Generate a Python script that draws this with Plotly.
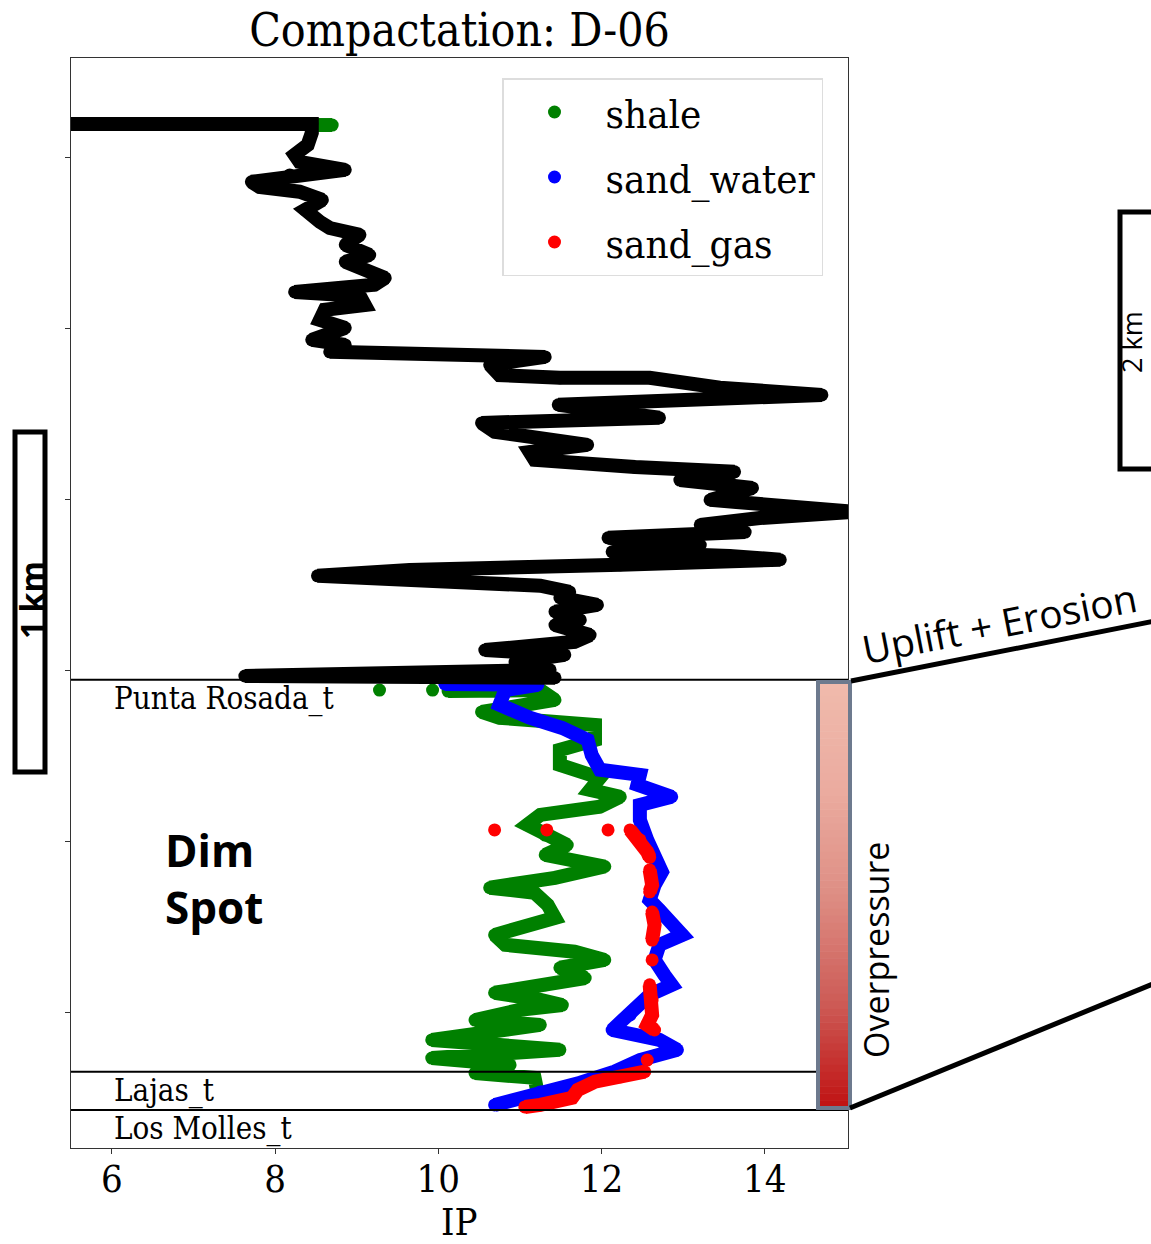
import plotly.graph_objects as go

# ---------------- data (IP vs depth) ----------------
black_ip = [5.42, 8.45, 8.45, 8.40, 8.24, 8.30, 8.86, 8.18, 7.71, 7.81, 8.30, 8.58, 8.37, 8.55, 8.67,
            9.04, 8.86, 9.16, 8.86, 9.10, 9.35, 9.22, 8.24, 9.04, 9.10, 8.61, 8.55, 8.86, 8.45, 8.86,
            8.67, 11.31, 10.63, 10.75, 11.49, 12.59, 13.45, 14.70, 13.94, 11.47, 12.71, 10.53, 10.69,
            11.83, 11.12, 11.18, 12.41, 13.63, 12.96, 13.85, 13.33, 15.10, 13.94, 13.21, 13.76, 12.08,
            13.21, 12.13, 13.57, 14.19, 12.23, 9.65, 8.52, 10.02, 11.25, 11.61, 11.49, 11.95, 11.43,
            11.74, 11.43, 11.86, 11.67, 10.57, 11.55, 10.94, 11.37, 7.63, 11.43]
black_depth = [901, 901, 927, 962, 991, 1012, 1035, 1050, 1070, 1085, 1099, 1123, 1152, 1187, 1205,
               1225, 1254, 1284, 1304, 1327, 1351, 1371, 1392, 1404, 1430, 1444, 1474, 1497, 1532, 1547,
               1567, 1582, 1605, 1635, 1643, 1643, 1672, 1693, 1701, 1722, 1760, 1775, 1801,
               1839, 1860, 1883, 1904, 1918, 1942, 1965, 2000, 2035, 2053, 2073, 2094, 2111,
               2132, 2152, 2164, 2175, 2190, 2205, 2222, 2234, 2251, 2269, 2286, 2307, 2327,
               2351, 2366, 2395, 2415, 2439, 2453, 2474, 2497, 2515, 2520]

shale_ip = [8.51, 8.70, None, 9.28, None, 9.93, None,
            10.12, 11.25, 11.43, 10.53, 10.75, 11.92, 11.92, 11.49, 11.49, 11.98, 11.86, 12.23, 11.98,
            11.25, 11.09, 11.31, 11.58, 11.31, 12.04, 11.43, 10.63, 11.18, 11.34, 11.43, 10.69, 10.82,
            11.67, 12.04, 11.49, 11.80, 11.31, 10.69, 11.25, 11.52, 11.00, 10.45, 11.25, 9.92, 10.75,
            11.49, 9.92, 10.88, 10.45, 11.18, 11.21]
shale_depth = [904, 904, None, 2556, None, 2556, None,
               2559, 2556, 2585, 2620, 2637, 2658, 2702, 2731, 2775, 2813, 2848, 2868, 2897,
               2921, 2950, 2980, 3009, 3038, 3072, 3105, 3134, 3149, 3184, 3222, 3272, 3301,
               3321, 3345, 3368, 3398, 3418, 3441, 3462, 3477, 3491, 3521, 3535, 3579, 3594,
               3608, 3632, 3652, 3676, 3690, 3725]

water_ip = [10.08, 11.22, 10.82, 10.75, 11.12, 11.52, 11.83, 11.88, 11.98, 12.47, 12.44, 12.86, 12.47,
            12.47, 12.56, 12.65, 12.74, 12.65, 12.59, 12.71, 12.99, 12.71, 12.65, 12.77, 12.86, 12.59,
            12.35, 12.13, 12.71, 12.93, 12.47, 12.16, 11.74, 11.25, 10.69]
water_depth = [2538, 2541, 2556, 2599, 2637, 2667, 2702, 2746, 2789, 2804, 2833, 2868, 2892,
               2936, 2994, 3053, 3088, 3126, 3170, 3199, 3272, 3301, 3345, 3389, 3418, 3447,
               3506, 3550, 3579, 3608, 3638, 3672, 3704, 3731, 3769]

gas_ip = [10.69, None, 11.33, None, 12.08, None,
          12.35, 12.47, 12.56, 12.59, None,
          12.59, 12.62, 12.59, None,
          12.62, 12.65, 12.62, None,
          12.62, None,
          12.59, 12.62, 12.62, 12.56, 12.65, None,
          12.56, None,
          12.53, 12.23, 11.92, 11.71, 11.64, 11.25, 11.06]
gas_depth = [2965, None, 2965, None, 2965, None,
             2965, 2994, 3029, 3045, None,
             3082, 3126, 3146, None,
             3205, 3243, 3287, None,
             3345, None,
             3418, 3462, 3506, 3535, 3550, None,
             3638, None,
             3672, 3687, 3701, 3725, 3748, 3769, 3775]

tops_names = ["Punta Rosada_t", "Lajas_t", "Los Molles_t"]
tops_depth = [2526, 3672, 3784]

x_ticks = [6, 8, 10, 12, 14]
y_ticks = [1000, 1500, 2000, 2500, 3000, 3500]

# ---------------- figure ----------------
SERIF = "DejaVu Serif Condensed, DejaVu Serif, serif"
SANS = "Open Sans, Noto Sans, sans-serif"
LW = 14
MS = 13

fig = go.Figure()

series = [
    ("shale", shale_ip, shale_depth, "green"),
    ("sand_water", water_ip, water_depth, "blue"),
    ("sand_gas", gas_ip, gas_depth, "red"),
]
for name, xs, ys, col in series:
    fig.add_trace(go.Scatter(x=xs, y=ys, mode="lines", line=dict(color=col, width=LW),
                             connectgaps=False, showlegend=False, hoverinfo="skip"))
    fig.add_trace(go.Scatter(x=xs, y=ys, mode="markers", name=name, legendgroup=name,
                             marker=dict(color=col, size=MS)))

fig.add_trace(go.Scatter(x=black_ip, y=black_depth, mode="lines", line=dict(color="black", width=LW),
                         showlegend=False, hoverinfo="skip"))
fig.add_trace(go.Scatter(x=black_ip, y=black_depth, mode="markers", marker=dict(color="black", size=MS),
                         showlegend=False))

shapes = []
annotations = []

# formation tops
for nm, d in zip(tops_names, tops_depth):
    shapes.append(dict(type="line", xref="paper", yref="y", x0=0, x1=1, y0=d, y1=d,
                       line=dict(color="black", width=2), layer="above"))
    annotations.append(dict(x=6.0, y=d, xref="x", yref="y", text=nm, showarrow=False,
                            xanchor="left", yanchor="top", yshift=2,
                            font=dict(family=SERIF, size=31, color="black")))

# helpers pixel -> paper (plot area: x 71..848, y 58..1148)
def px(xp):
    return (xp - 71) / 777.0

def py(yp):
    return 1 - (yp - 58) / 1090.0

# overpressure gradient bar
stops = [(0.0, (240, 186, 172)), (0.25, (235, 172, 160)), (0.5, (222, 142, 132)),
         (0.75, (205, 92, 87)), (1.0, (192, 18, 18))]

def grad(t):
    for (t0, c0), (t1, c1) in zip(stops[:-1], stops[1:]):
        if t <= t1:
            f = (t - t0) / (t1 - t0)
            return "rgb(%d,%d,%d)" % tuple(round(a + (b - a) * f) for a, b in zip(c0, c1))
    return "rgb(192,18,18)"

bx0, bx1 = px(818), px(850)
by_top, by_bot = 682, 1108
N = 60
for i in range(N):
    ya = by_top + (by_bot - by_top) * i / N
    yb = by_top + (by_bot - by_top) * (i + 1) / N
    shapes.append(dict(type="rect", xref="paper", yref="paper", x0=bx0, x1=bx1,
                       y0=py(yb), y1=py(ya) + 0.0005, fillcolor=grad((i + 0.5) / N),
                       line=dict(width=0), layer="above"))
shapes.append(dict(type="rect", xref="paper", yref="paper", x0=bx0, x1=bx1, y0=py(by_bot), y1=py(by_top),
                   line=dict(color="#6d7a8e", width=4), fillcolor="rgba(0,0,0,0)", layer="above"))

# connector lines
shapes.append(dict(type="line", xref="paper", yref="paper", x0=px(851), y0=py(681), x1=px(1160), y1=py(620),
                   line=dict(color="black", width=5)))
shapes.append(dict(type="line", xref="paper", yref="paper", x0=px(850), y0=py(1108), x1=px(1160), y1=py(981),
                   line=dict(color="black", width=5)))

def label(x, y, text, size, angle=0, family=SANS, **kw):
    d = dict(x=px(x), y=py(y), xref="paper", yref="paper", text=text, showarrow=False,
             textangle=angle, xanchor="center", yanchor="middle",
             font=dict(family=family, size=size, color="black"))
    d.update(kw)
    annotations.append(d)

# 1 km scale bar
shapes.append(dict(type="rect", xref="paper", yref="paper", x0=px(15), x1=px(45), y0=py(772), y1=py(432),
                   line=dict(color="black", width=5), fillcolor="white"))
label(31, 600, "<b>1 km</b>", 32, -90)
# 2 km scale bar (cut at right edge)
shapes.append(dict(type="rect", xref="paper", yref="paper", x0=px(1120), x1=px(1170), y0=py(469), y1=py(212),
                   line=dict(color="black", width=5), fillcolor="rgba(0,0,0,0)"))
label(1131, 342, "2 km", 27, -90, borderpad=0)

label(999, 622, "Uplift + Erosion", 39, -11)
label(876, 950, "Overpressure", 34, -90)
annotations.append(dict(x=px(163), y=py(818), xref="paper", yref="paper", text="<b>Dim<br>Spot</b>",
                        showarrow=False, xanchor="left", yanchor="top", align="left",
                        font=dict(family=SANS, size=44, color="black")))
label(459, 1222, "IP", 38, family=SERIF)

fig.update_layout(
    width=1151, height=1244,
    margin=dict(l=71, r=303, t=58, b=96),
    paper_bgcolor="white", plot_bgcolor="white",
    title=dict(text="Compactation: D-06", x=0.5, xref="paper", xanchor="center",
               y=1 - 30 / 1244, yref="container", yanchor="middle",
               font=dict(family=SERIF, size=46, color="black")),
    xaxis=dict(range=[5.5, 15.02], tickvals=x_ticks, ticks="outside", ticklen=5, tickcolor="#333",
               showgrid=False, zeroline=False, showline=True, linecolor="#333", linewidth=1, mirror=True,
               ticklabelstandoff=-8,
               tickfont=dict(family=SERIF, size=38, color="black")),
    yaxis=dict(range=[3895, 708], tickvals=y_ticks, showticklabels=False, ticks="outside", ticklen=5,
               tickcolor="#333", showgrid=False, zeroline=False, showline=True, linecolor="#333",
               linewidth=1, mirror=True),
    legend=dict(x=px(502), y=py(78), xanchor="left", yanchor="top", bgcolor="white",
                bordercolor="#dddddd", borderwidth=1.5, itemwidth=92, tracegroupgap=10,
                traceorder="grouped",
                font=dict(family=SERIF, size=40, color="black")),
    shapes=shapes, annotations=annotations,
    showlegend=True,
)

fig.write_html("out.html")
